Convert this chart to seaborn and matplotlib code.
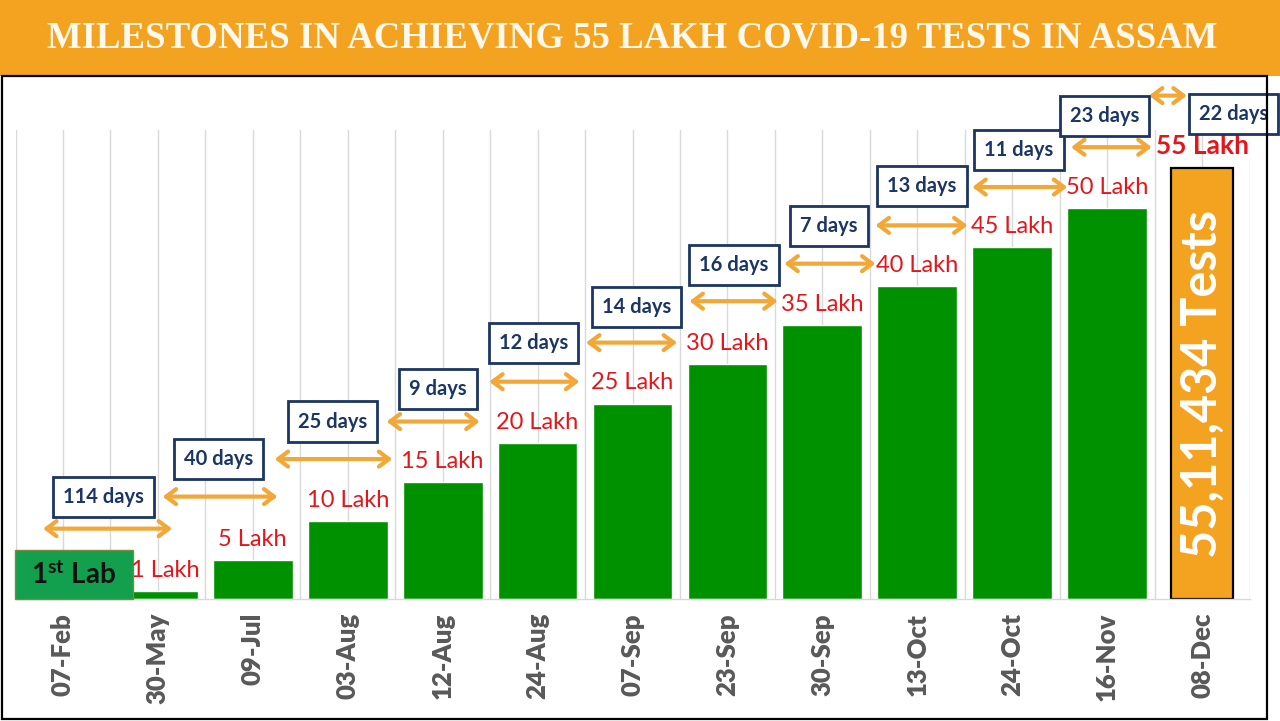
import matplotlib
matplotlib.use("Agg")
import matplotlib.pyplot as plt
import seaborn as sns
import pandas as pd
import numpy as np
from matplotlib.patches import Rectangle

# ---------------- data ----------------
dates = ["07-Feb", "30-May", "09-Jul", "03-Aug", "12-Aug", "24-Aug", "07-Sep",
         "23-Sep", "30-Sep", "13-Oct", "24-Oct", "16-Nov", "08-Dec"]
tests_lakh = [0, 1, 5, 10, 15, 20, 25, 30, 35, 40, 45, 50, 55.11434]
milestone_labels = ["", "1 Lakh", "5 Lakh", "10 Lakh", "15 Lakh", "20 Lakh", "25 Lakh",
                    "30 Lakh", "35 Lakh", "40 Lakh", "45 Lakh", "50 Lakh", "55 Lakh"]
gap_days = ["114 days", "40 days", "25 days", "9 days", "12 days", "14 days",
            "16 days", "7 days", "13 days", "11 days", "23 days", "22 days"]
total_text = "55,11,434 Tests"
first_lab_text = r"$\mathbf{1^{st}}$ Lab"
title = "MILESTONES IN ACHIEVING 55 LAKH COVID-19 TESTS IN ASSAM"

# ---------------- annotation layout (category / lakh units) ----------------
box_x = [0.43, 1.64, 2.84, 3.95, 4.96, 6.04, 7.07, 8.07, 9.05, 10.07, 10.97, 12.33]
box_y = [13.1, 17.9, 22.7, 26.9, 32.7, 37.4, 42.7, 47.7, 52.8, 57.4, 61.8, 62.1]
arrow_x0 = [-0.21, 1.05, 2.23, 3.41, 4.49, 5.51, 6.60, 7.60, 8.56, 9.58, 10.62, 11.44]
arrow_x1 = [1.15, 2.26, 3.47, 4.39, 5.44, 6.47, 7.53, 8.56, 9.53, 10.58, 11.47, 11.84]
arrow_y = [9.0, 13.1, 17.9, 22.7, 27.8, 32.8, 38.1, 42.9, 47.8, 52.7, 57.8, 64.4]
label_dx = [0, 0.08, 0, 0, 0, 0, 0, 0, 0, 0, 0, 0, 0]

GREEN = "#009100"
ORANGE = "#F4A321"
RED = "#E3161B"
NAVY = "#1B3564"
ARROW = "#F2A838"
GRID = "#D9D9D9"

sns.set_theme(style="white")
plt.rcParams["font.family"] = ["Lato", "DejaVu Sans"]
plt.rcParams["mathtext.fontset"] = "custom"
plt.rcParams["mathtext.rm"] = "Lato"
plt.rcParams["mathtext.bf"] = "Lato:bold"

fig = plt.figure(figsize=(12.8, 7.21), dpi=100)
fig.patch.set_facecolor("white")
ax = fig.add_axes([15.5 / 1280, 122 / 721, (1249.5 - 15.5) / 1280, (599 - 130) / 721])

df = pd.DataFrame({"date": dates, "lakh": tests_lakh})
palette = [GREEN] * (len(dates) - 1) + [ORANGE]
sns.barplot(data=df, x="date", y="lakh", hue="date", palette=palette, legend=False,
            width=0.84, saturation=1, ax=ax, zorder=2)

last = len(dates) - 1
for p in ax.patches:
    cx = p.get_x() + p.get_width() / 2
    if abs(cx - last) < 0.3:
        p.set_width(0.65)
        p.set_x(last - 0.325)
        p.set_edgecolor("black")
        p.set_linewidth(1.6)

ax.set_xlim(-0.5, len(dates) - 0.5)
ax.set_ylim(0, 60)
ax.set_xlabel("")
ax.set_ylabel("")
ax.set_yticks([])
ax.set_xticks(range(len(dates)))
ax.set_xticks(np.arange(-0.5, len(dates), 1.0), minor=True)
ax.set_xticklabels(dates, rotation=90, fontsize=18.5, fontweight="heavy", color="#595959")
ax.tick_params(axis="x", which="both", length=0, pad=10)
ax.grid(axis="x", which="both", color=GRID, lw=1, zorder=0)
ax.set_axisbelow(True)
for s in ["top", "left", "right"]:
    ax.spines[s].set_visible(False)
ax.spines["bottom"].set_color(GRID)
ax.spines["bottom"].set_linewidth(1)

# milestone labels
for i, (v, lab) in enumerate(zip(tests_lakh, milestone_labels)):
    if not lab:
        continue
    if i == last:
        ax.text(i, v + 1.3, lab, ha="center", va="bottom", color=RED,
                fontsize=19, fontweight="bold", clip_on=False)
    else:
        ax.text(i + label_dx[i], v + 1.3, lab, ha="center", va="bottom", color=RED,
                fontsize=17, zorder=5)

# total text inside last bar
ax.text(last, tests_lakh[last] / 2, total_text, rotation=90, ha="center", va="center",
        color="white", fontsize=35, fontweight="bold", zorder=4)

# first lab box
ax.add_patch(Rectangle((-0.51, 0), 1.25, 6.3, facecolor="#12A04E", edgecolor="#7A8B3A",
                       lw=1, zorder=3, clip_on=False))
ax.text(0.11, 3.1, first_lab_text, ha="center", va="center", fontsize=20,
        fontweight="bold", color="#111111", zorder=4)

# day boxes and arrows
for bx, by, txt in zip(box_x, box_y, gap_days):
    ax.text(bx, by, txt, ha="center", va="center", fontsize=14.5, fontweight="bold",
            color=NAVY, zorder=6, clip_on=False,
            bbox=dict(boxstyle="square,pad=0.5", facecolor="white", edgecolor=NAVY, lw=2))
for x0, x1, y in zip(arrow_x0, arrow_x1, arrow_y):
    ax.annotate("", xy=(x1, y), xytext=(x0, y), annotation_clip=False,
                arrowprops=dict(arrowstyle="<->,head_length=0.6,head_width=0.45",
                                lw=3, color=ARROW, shrinkA=0, shrinkB=0), zorder=5)

# banner + frame
fig.add_artist(Rectangle((0, 645 / 721), 1, 76 / 721, transform=fig.transFigure,
                         facecolor=ORANGE, edgecolor="none", zorder=0))
fig.add_artist(Rectangle((2 / 1280, 2 / 721), 1265 / 1280, 643 / 721, transform=fig.transFigure,
                         fill=False, edgecolor="black", lw=1.6, zorder=0.5))
fig.text(632 / 1280, 1 - 38 / 721, title, ha="center", va="center", color="#FFF8EC",
         fontfamily="Liberation Serif", fontweight="bold", fontsize=26.5)

fig.savefig("out.png", dpi=100)
